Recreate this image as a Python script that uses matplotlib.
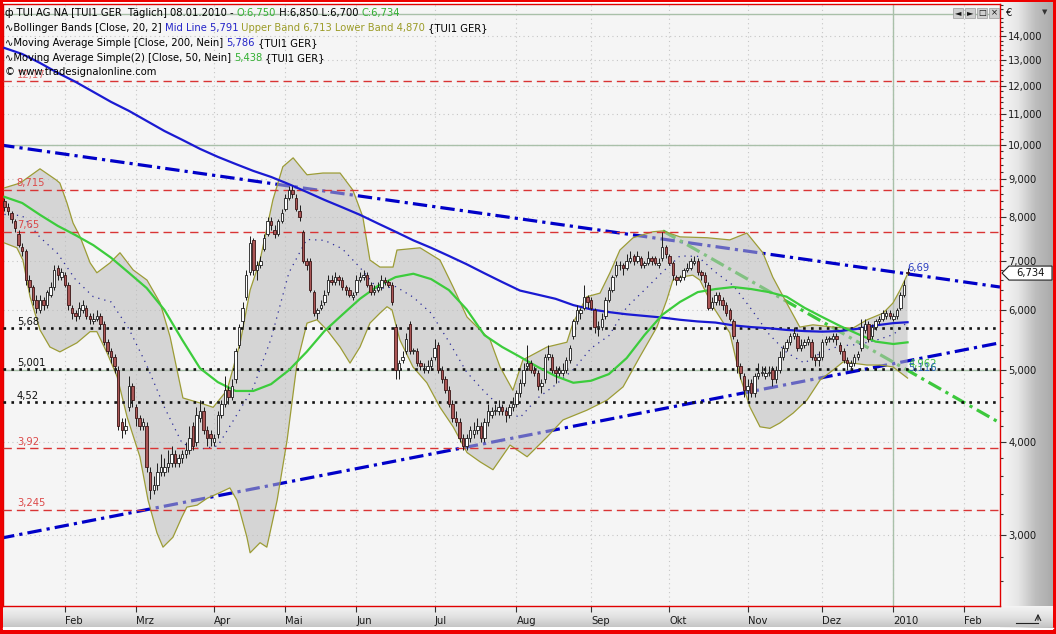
import numpy as np
import pandas as pd
import matplotlib
matplotlib.use("Agg")
import matplotlib.pyplot as plt
from matplotlib.colors import LinearSegmentedColormap
from matplotlib.patches import Polygon, Rectangle
from matplotlib.ticker import FixedLocator, NullFormatter

plt.rcParams['font.family'] = ['DejaVu Sans']
FS = 7.2

# ---------------- data ----------------
holidays = ['2009-04-10', '2009-04-13', '2009-05-01', '2009-12-24',
            '2009-12-25', '2009-12-31', '2010-01-01']

opens = [8.4, 8.25, 8.1, 7.9, 7.6, 7.3, 7.2, 6.6, 6.45, 6.2,
         6.0, 6.2, 6.1, 6.3, 6.45, 6.85, 6.65, 6.7, 6.5, 6.05,
         5.95, 5.9, 6.0, 6.05, 5.9, 5.8, 5.85, 5.9, 5.75, 5.45,
         5.3, 5.2, 5.0, 4.25, 4.15, 4.45, 4.75, 4.45, 4.3, 4.2,
         4.2, 3.65, 3.45, 3.5, 3.65, 3.65, 3.7, 3.75, 3.85, 3.75,
         3.8, 3.85, 3.9, 4.2, 4.0, 4.3, 4.4, 4.15, 4.1, 4.0,
         4.1, 4.35, 4.5, 4.7, 4.6, 4.85, 5.4, 5.8, 6.25, 6.75,
         7.45, 6.8, 6.9, 7.25, 7.6, 7.9, 7.7, 7.6, 7.9, 8.2,
         8.5, 8.7, 8.5, 8.15, 7.65, 7.0, 7.0, 6.35, 5.95, 6.05,
         6.15, 6.35, 6.6, 6.55, 6.65, 6.6, 6.45, 6.4, 6.25, 6.35,
         6.6, 6.65, 6.7, 6.5, 6.35, 6.4, 6.45, 6.6, 6.55, 6.5,
         5.7, 5.0, 5.15, 5.3, 5.75, 5.3, 5.3, 5.1, 5.05, 5.0,
         5.05, 5.2, 5.4, 5.0, 4.85, 4.7, 4.5, 4.3, 4.25, 4.05,
         3.95, 4.05, 4.1, 4.15, 4.2, 4.05, 4.25, 4.35, 4.4, 4.4,
         4.45, 4.4, 4.35, 4.45, 4.5, 4.65, 4.8, 5.05, 5.1, 5.0,
         4.95, 4.75, 4.85, 5.2, 5.2, 5.0, 4.95, 4.95, 5.0, 5.15,
         5.55, 5.8, 5.95, 6.05, 6.25, 6.2, 6.0, 5.7, 5.7, 5.9,
         6.2, 6.4, 6.7, 6.9, 6.9, 6.85, 7.0, 7.1, 7.0, 7.05,
         6.9, 6.95, 7.05, 7.05, 6.9, 7.05, 7.3, 7.1, 6.95, 6.65,
         6.6, 6.65, 6.8, 6.85, 6.95, 7.0, 6.75, 6.7, 6.5, 6.05,
         6.15, 6.3, 6.2, 6.1, 6.0, 5.8, 5.45, 5.05, 4.9, 4.7,
         4.8, 4.65, 4.9, 4.95, 4.9, 4.95, 5.0, 4.85, 5.0, 5.2,
         5.35, 5.45, 5.55, 5.55, 5.35, 5.4, 5.45, 5.45, 5.2, 5.15,
         5.2, 5.45, 5.5, 5.5, 5.55, 5.4, 5.3, 5.15, 5.05, 5.1,
         5.2, 5.35, 5.65, 5.75, 5.55, 5.7, 5.8, 5.85, 5.9, 5.95,
         5.85, 5.9, 6.05, 6.3, 6.75]

highs = [8.5, 8.35, 8.15, 7.95, 7.7, 7.4, 7.25, 6.7, 6.5, 6.3,
         6.3, 6.25, 6.4, 6.55, 6.9, 6.9, 6.85, 6.75, 6.55, 6.1,
         6.0, 6.15, 6.2, 6.1, 5.95, 5.95, 6.0, 5.95, 5.8, 5.5,
         5.35, 5.25, 5.05, 4.3, 4.3, 4.9, 4.8, 4.5, 4.35, 4.3,
         4.25, 3.7, 3.6, 3.75, 3.85, 3.8, 3.9, 3.95, 3.9, 3.85,
         3.9, 4.0, 4.2, 4.25, 4.45, 4.55, 4.45, 4.2, 4.15, 4.1,
         4.4, 4.55, 4.9, 4.75, 4.85, 5.35, 5.75, 6.15, 6.8, 7.55,
         7.5, 7.0, 7.1, 7.6, 8.0, 8.0, 7.8, 7.95, 8.2, 8.6,
         8.8, 8.8, 8.6, 8.3, 7.7, 7.05, 7.05, 6.4, 6.05, 6.2,
         6.4, 6.7, 6.7, 6.75, 6.7, 6.65, 6.5, 6.45, 6.35, 6.7,
         6.75, 6.8, 6.75, 6.55, 6.5, 6.55, 6.7, 6.65, 6.6, 6.55,
         5.75, 5.15, 5.3, 5.6, 5.8, 5.35, 5.35, 5.15, 5.1, 5.15,
         5.2, 5.5, 5.45, 5.05, 4.9, 4.75, 4.55, 4.4, 4.3, 4.1,
         4.1, 4.2, 4.25, 4.3, 4.25, 4.3, 4.5, 4.45, 4.5, 4.55,
         4.5, 4.45, 4.5, 4.6, 4.7, 4.85, 5.1, 5.4, 5.15, 5.05,
         5.0, 4.85, 5.25, 5.4, 5.25, 5.05, 5.05, 5.1, 5.2, 5.4,
         5.85, 6.1, 6.05, 6.5, 6.3, 6.25, 6.05, 5.8, 5.95, 6.25,
         6.45, 6.7, 7.0, 7.0, 6.95, 7.15, 7.2, 7.15, 7.2, 7.1,
         7.0, 7.2, 7.1, 7.1, 7.05, 7.65, 7.35, 7.15, 7.0, 6.7,
         6.7, 6.85, 6.95, 7.05, 7.1, 7.05, 6.8, 6.75, 6.55, 6.25,
         6.35, 6.35, 6.25, 6.15, 6.05, 5.85, 5.5, 5.1, 4.95, 4.85,
         4.85, 4.95, 5.1, 5.05, 5.05, 5.05, 5.05, 5.05, 5.3, 5.4,
         5.5, 5.6, 5.7, 5.6, 5.5, 5.5, 5.55, 5.5, 5.25, 5.3,
         5.5, 5.55, 5.55, 5.6, 5.6, 5.45, 5.35, 5.2, 5.15, 5.25,
         5.3, 5.85, 5.85, 5.8, 5.75, 5.85, 5.9, 6.0, 6.0, 6.0,
         5.95, 6.05, 6.35, 6.6, 6.85]

lows = [8.15, 8.05, 7.85, 7.65, 7.3, 7.1, 6.5, 6.35, 6.1, 5.95,
        5.95, 6.0, 6.05, 6.25, 6.4, 6.6, 6.6, 6.45, 6.0, 5.85,
        5.8, 5.85, 5.95, 5.85, 5.75, 5.75, 5.8, 5.7, 5.4, 5.25,
        5.1, 4.95, 4.15, 4.05, 4.1, 4.4, 4.45, 4.2, 4.15, 4.15,
        3.65, 3.35, 3.4, 3.45, 3.6, 3.6, 3.65, 3.7, 3.7, 3.7,
        3.75, 3.8, 3.85, 3.9, 3.95, 4.25, 4.1, 3.95, 3.95, 3.95,
        4.05, 4.3, 4.45, 4.5, 4.55, 4.8, 5.35, 5.7, 6.2, 6.7,
        6.7, 6.6, 6.85, 7.2, 7.55, 7.7, 7.5, 7.55, 7.85, 8.15,
        8.45, 8.5, 8.15, 7.9, 6.95, 6.8, 6.35, 5.9, 5.85, 6.0,
        6.1, 6.3, 6.5, 6.5, 6.5, 6.4, 6.3, 6.25, 6.2, 6.3,
        6.55, 6.6, 6.45, 6.3, 6.3, 6.35, 6.4, 6.5, 6.45, 6.1,
        4.85, 4.85, 5.1, 5.25, 5.25, 5.25, 5.05, 5.0, 4.95, 4.95,
        5.0, 5.15, 4.95, 4.8, 4.65, 4.45, 4.25, 4.2, 4.0, 3.9,
        3.9, 4.0, 4.05, 4.1, 4.0, 4.0, 4.2, 4.3, 4.35, 4.35,
        4.35, 4.25, 4.3, 4.4, 4.45, 4.6, 4.75, 5.0, 4.95, 4.9,
        4.7, 4.65, 4.8, 5.15, 4.95, 4.8, 4.9, 4.9, 4.95, 5.1,
        5.5, 5.75, 5.85, 6.0, 6.05, 6.0, 5.6, 5.55, 5.65, 5.85,
        6.15, 6.35, 6.65, 6.8, 6.7, 6.8, 6.95, 6.9, 6.95, 6.85,
        6.85, 6.9, 6.9, 6.9, 6.85, 7.0, 7.05, 6.9, 6.6, 6.5,
        6.55, 6.6, 6.75, 6.8, 6.9, 6.7, 6.6, 6.45, 6.0, 6.0,
        6.1, 6.1, 6.0, 5.9, 5.8, 5.5, 4.95, 4.85, 4.6, 4.55,
        4.6, 4.6, 4.85, 4.9, 4.85, 4.9, 4.75, 4.8, 4.95, 5.15,
        5.3, 5.4, 5.5, 5.3, 5.3, 5.35, 5.4, 5.15, 5.05, 5.05,
        5.15, 5.4, 5.45, 5.45, 5.4, 5.25, 5.1, 5.0, 5.0, 5.05,
        5.15, 5.3, 5.6, 5.45, 5.5, 5.65, 5.75, 5.8, 5.85, 5.85,
        5.8, 5.85, 6.0, 6.25, 6.7]

closes = [8.25, 8.15, 7.95, 7.75, 7.35, 7.2, 6.6, 6.45, 6.2, 6.05,
          6.2, 6.1, 6.35, 6.45, 6.8, 6.7, 6.75, 6.5, 6.1, 5.95,
          5.9, 6.05, 6.1, 5.9, 5.85, 5.85, 5.9, 5.75, 5.45, 5.3,
          5.2, 5.05, 4.2, 4.15, 4.2, 4.75, 4.55, 4.3, 4.2, 4.25,
          3.7, 3.45, 3.5, 3.65, 3.7, 3.7, 3.75, 3.85, 3.75, 3.8,
          3.85, 3.9, 4.05, 3.95, 4.35, 4.4, 4.15, 4.05, 4.05, 4.05,
          4.35, 4.5, 4.7, 4.6, 4.75, 5.3, 5.7, 6.05, 6.7, 7.4,
          6.8, 6.9, 7.0, 7.5, 7.9, 7.8, 7.6, 7.9, 8.1, 8.5,
          8.7, 8.6, 8.2, 8.0, 7.0, 6.9, 6.4, 5.95, 6.0, 6.1,
          6.3, 6.6, 6.55, 6.65, 6.6, 6.45, 6.4, 6.3, 6.3, 6.6,
          6.65, 6.7, 6.5, 6.35, 6.4, 6.45, 6.6, 6.55, 6.5, 6.15,
          5.0, 5.1, 5.2, 5.5, 5.3, 5.3, 5.1, 5.05, 5.05, 5.05,
          5.15, 5.35, 5.0, 4.85, 4.7, 4.5, 4.3, 4.25, 4.05, 3.95,
          4.05, 4.15, 4.15, 4.2, 4.05, 4.25, 4.4, 4.4, 4.4, 4.45,
          4.4, 4.35, 4.45, 4.5, 4.65, 4.8, 5.0, 5.1, 5.0, 4.95,
          4.75, 4.8, 5.2, 5.25, 5.0, 4.95, 5.0, 5.0, 5.15, 5.35,
          5.8, 6.0, 6.0, 6.25, 6.15, 6.05, 5.7, 5.7, 5.85, 6.2,
          6.4, 6.65, 6.9, 6.9, 6.85, 7.0, 7.05, 7.0, 7.1, 6.9,
          6.95, 7.05, 7.0, 6.95, 6.95, 7.3, 7.15, 6.95, 6.7, 6.6,
          6.65, 6.8, 6.85, 7.0, 7.0, 6.75, 6.7, 6.55, 6.05, 6.15,
          6.3, 6.2, 6.1, 5.95, 5.85, 5.55, 5.05, 4.95, 4.7, 4.75,
          4.65, 4.9, 4.95, 4.95, 4.95, 4.95, 4.85, 5.0, 5.2, 5.35,
          5.45, 5.55, 5.6, 5.35, 5.4, 5.45, 5.5, 5.2, 5.15, 5.2,
          5.45, 5.5, 5.5, 5.55, 5.5, 5.3, 5.15, 5.1, 5.1, 5.2,
          5.25, 5.7, 5.75, 5.5, 5.7, 5.8, 5.85, 5.95, 5.95, 5.9,
          5.9, 6.0, 6.3, 6.5, 6.734]

# Bollinger bands (trading-day position, price)
bb_upper_idx = [0, 4.4, 10.0, 14.5, 15.6, 17.6, 19.3, 21.3, 24.1, 26.0, 29.7, 32.5,
                36.2, 40.1, 43.8, 46.6, 50.2, 55.0, 58.7, 62.6, 66.3, 69.1, 71.9,
                75.5, 78.3, 81.2, 85.1, 89.6, 94.4, 98.0, 100.8, 102.8, 105.6, 109.3,
                110.4, 116.9, 122.5, 126.2, 130.1, 133.8, 136.6, 139.4, 143.0, 145.8,
                152.6, 158.2, 159.9, 163.8, 167.5, 170.3, 173.1, 176.8, 182.4, 185.2,
                190.0, 197.6, 204.0, 208.8, 213.3, 216.1, 220.0, 223.7, 227.4, 233.0,
                238.6, 242.6, 247.1, 249.9, 251.9, 254.0]
bb_upper = [8.76, 8.89, 9.29, 8.98, 8.89, 8.36, 7.86, 7.53, 6.95, 6.74, 6.95, 7.17,
            6.80, 6.59, 6.14, 5.53, 4.58, 4.51, 4.45, 4.69, 5.43, 6.39, 7.01,
            8.44, 9.35, 9.61, 9.12, 9.17, 9.17, 8.70, 8.01, 7.01, 6.86, 6.86,
            7.23, 7.28, 7.01, 6.45, 5.88, 5.65, 5.48, 5.04, 4.69, 5.15,
            5.36, 5.44, 5.77, 6.26, 6.33, 6.74, 7.23, 7.51, 7.65, 7.67,
            7.53, 7.51, 7.46, 7.62, 7.17, 6.65, 6.14, 5.70, 5.74, 5.70,
            5.68, 5.83, 5.95, 6.14, 6.39, 6.713]
bb_lower_idx = [0, 3.5, 5.2, 7.2, 10.0, 12.8, 15.6, 20.4, 24.1, 26.0, 28.9, 31.7,
                34.5, 38.1, 40.4, 42.9, 44.6, 47.4, 49.9, 51.3, 54.2, 57.0, 60.6,
                63.4, 65.4, 68.2, 69.1, 71.9, 73.8, 76.7, 79.5, 82.3, 85.1, 87.9,
                90.7, 94.4, 97.2, 100.0, 102.8, 105.6, 107.6, 109.0, 111.2, 114.9,
                118.8, 122.5, 126.2, 130.1, 133.8, 137.4, 142.2, 147.0, 152.6, 157.1,
                163.8, 169.5, 174.0, 178.7, 183.5, 186.3, 188.0, 190.0, 193.6, 195.6,
                199.3, 204.0, 206.9, 209.7, 212.5, 215.3, 218.1, 221.8, 225.7, 229.4,
                233.0, 235.9, 238.6, 242.6, 246.2, 249.9, 254.0]
bb_lower = [7.39, 7.28, 7.01, 6.26, 5.65, 5.36, 5.28, 5.43, 5.62, 5.62, 5.26, 4.89,
            4.32, 3.82, 3.34, 3.02, 2.89, 2.98, 3.17, 3.27, 3.29, 3.36, 3.42,
            3.47, 3.34, 2.98, 2.84, 2.93, 2.89, 3.34, 4.02, 5.10, 5.77, 5.83,
            5.65, 5.36, 5.10, 5.36, 5.77, 5.95, 6.07, 6.01, 5.48, 5.04,
            4.80, 4.45, 4.19, 3.87, 3.76, 3.67, 3.96, 3.82, 4.06, 4.28,
            4.41, 4.55, 4.74, 5.20, 5.70, 6.20, 6.59, 6.65, 6.69, 6.59,
            6.07, 5.60, 4.89, 4.45, 4.19, 4.17, 4.24, 4.37, 4.55, 4.84,
            4.99, 5.12, 5.10, 5.07, 5.07, 5.04, 4.87]

# mid line and moving averages read every 5 trading days (plus the last day)
ind_idx = [0, 5, 10, 15, 20, 25, 30, 35, 40, 45, 50, 55, 60, 65, 70, 75, 80, 85,
           90, 95, 100, 105, 110, 115, 120, 125, 130, 135, 140, 145, 150, 155, 160,
           165, 170, 175, 180, 185, 190, 195, 200, 205, 210, 215, 220, 225, 230,
           235, 240, 245, 250, 254]
bb_mid = [8.07, 8.04, 7.52, 7.15, 6.6, 6.26, 6.16, 5.67, 5.07, 4.45, 3.98, 3.91,
          3.95, 4.32, 4.73, 5.5, 6.74, 7.47, 7.45, 7.26, 6.85, 6.41, 6.46, 6.25,
          5.95, 5.45, 4.96, 4.67, 4.43, 4.31, 4.58, 4.77, 5.0, 5.34, 5.55, 6.06,
          6.39, 6.75, 7.1, 7.09, 6.75, 6.48, 6.03, 5.58, 5.27, 5.1, 5.28, 5.38,
          5.4, 5.47, 5.57, 5.791]
sma50 = [8.52, 8.36, 8.06, 7.79, 7.57, 7.34, 7.06, 6.74, 6.43, 6.01, 5.48, 5.02,
         4.81, 4.68, 4.68, 4.78, 4.99, 5.28, 5.63, 5.92, 6.22, 6.47, 6.65, 6.72,
         6.61, 6.39, 6.02, 5.56, 5.36, 5.2, 5.04, 4.9, 4.8, 4.83, 4.93, 5.18,
         5.56, 5.92, 6.16, 6.35, 6.41, 6.45, 6.41, 6.35, 6.26, 6.05, 5.88, 5.72,
         5.58, 5.45, 5.41, 5.438]
sma200 = [13.49, 13.24, 12.88, 12.49, 12.15, 11.78, 11.42, 11.11, 10.77, 10.44,
          10.16, 9.88, 9.64, 9.43, 9.23, 9.06, 8.86, 8.65, 8.44, 8.25, 8.06, 7.85,
          7.65, 7.45, 7.28, 7.1, 6.92, 6.73, 6.55, 6.38, 6.3, 6.22, 6.1, 6.02,
          5.97, 5.93, 5.9, 5.87, 5.83, 5.8, 5.78, 5.73, 5.7, 5.68, 5.65, 5.63,
          5.62, 5.63, 5.67, 5.73, 5.77, 5.786]

month_labels = ['Feb', 'Mrz', 'Apr', 'Mai', 'Jun', 'Jul', 'Aug', 'Sep', 'Okt',
                'Nov', 'Dez', '2010', 'Feb']
y_major = [3, 4, 5, 6, 7, 8, 9, 10, 11, 12, 13, 14]
round_levels = [5, 10, 15]
red_levels = [12.17, 8.715, 7.65, 3.92, 3.245]
red_labels = ['12,17', '8,715', '7,65', '3,92', '3,245']
black_levels = [5.68, 5.001, 4.52]
black_labels = ['5,68', '5,001', '4,52']

trend_hi_x, trend_hi_y = [-1.2, 280.0], [10.0, 6.45]
trend_lo_x, trend_lo_y = [-1.2, 280.0], [2.97, 5.43]
trend_gr_x, trend_gr_y = [185.2, 280.0], [7.67, 4.24]

# ---------------- figure ----------------
W, H = 1056, 634
fig = plt.figure(figsize=(W / 100, H / 100), dpi=100)
fig.patch.set_facecolor('white')

bg = fig.add_axes([0, 0, 1, 1], zorder=0)
bg.axis('off')
cm_r = LinearSegmentedColormap.from_list('r', ['#f7f7f7', '#e6e6e6', '#bdbdbd', '#a9a9a9'])
cm_b = LinearSegmentedColormap.from_list('b', ['#f4f4f4', '#e2e2e2', '#c6c6c6'])
bg.imshow(np.linspace(0, 1, 128)[None, :], extent=(1000, 1054, 628, 0), cmap=cm_r,
          aspect='auto', interpolation='bilinear')
bg.imshow(np.linspace(0, 1, 64)[:, None], extent=(0, 1054, 627, 606), cmap=cm_b,
          aspect='auto', interpolation='bilinear')
bg.set_xlim(0, W)
bg.set_ylim(H, 0)

ax = fig.add_axes([3 / W, (H - 606) / H, 997 / W, (606 - 4) / H], zorder=2)
ax.set_facecolor('#f5f5f5')
ax.set_yscale('log')

hol = pd.to_datetime(holidays)
cal = pd.bdate_range('2009-01-08', '2010-02-26')
cal = cal[~cal.isin(hol)]
month_pos = [i for i in range(1, len(cal)) if cal[i].month != cal[i - 1].month]

n = len(closes)
idx = np.arange(n)
o = np.array(opens)
c = np.array(closes)
hi = np.array(highs)
lo = np.array(lows)

# grid
for v in y_major:
    ax.axhline(v, color='#c6c6c6', lw=0.8, ls=(0, (1, 3)), zorder=0.5)
for p in month_pos:
    ax.axvline(p, color='#c6c6c6', lw=0.8, ls=(0, (1, 3)), zorder=0.5)
for v in round_levels:
    ax.axhline(v, color='#a9c0a9', lw=1.0, zorder=0.8)
ax.axvline(month_pos[month_labels.index('2010')], color='#a9c0a9', lw=1.0, zorder=0.8)

# trend lines (under the band fill)
dd = (0, (4.5, 1.6, 1.0, 1.6))
ax.plot(trend_hi_x, trend_hi_y, color='#0000c8', lw=2.3, ls=dd, zorder=2)
ax.plot(trend_lo_x, trend_lo_y, color='#0000c8', lw=2.3, ls=dd, zorder=2)
ax.plot(trend_gr_x, trend_gr_y, color='#3cc83c', lw=2.3, ls=dd, zorder=2)

# Bollinger bands
ax.fill(list(bb_upper_idx) + list(bb_lower_idx[::-1]), list(bb_upper) + list(bb_lower[::-1]),
        color='#bcbcbc', alpha=0.55, lw=0, zorder=3)
ax.plot(bb_upper_idx, bb_upper, color='#9c9c36', lw=0.9, zorder=3.5)
ax.plot(bb_lower_idx, bb_lower, color='#9c9c36', lw=0.9, zorder=3.5)
ax.plot(ind_idx, bb_mid, color='#2a2a9a', lw=0.9, ls=(0, (1, 4)), zorder=4)

# horizontal levels
for v, lab in zip(red_levels, red_labels):
    ax.axhline(v, color='#d93434', lw=1.0, ls=(0, (6, 3.6)), zorder=4)
    if lab != '12,17':
        ax.text(3.5, v * 1.004, lab, color='#dc4a4a', fontsize=FS, ha='left', va='bottom', zorder=7)
for v, lab in zip(black_levels, black_labels):
    ax.axhline(v, color='#111111', lw=1.9, ls=(0, (1, 2)), zorder=4)
    ax.text(3.5, v * 1.004, lab, color='#111111', fontsize=FS, ha='left', va='bottom', zorder=7)

# moving averages
ax.plot(ind_idx, sma200, color='#1a1ad2', lw=1.6, zorder=5)
ax.plot(ind_idx, sma50, color='#3ccc3c', lw=1.6, zorder=5)

# candles
up = c >= o
body_lo = np.minimum(o, c)
body_h = np.maximum(np.abs(c - o), 0.012)
ax.vlines(idx, lo, hi, color='#1c1c1c', lw=0.7, zorder=6)
ax.bar(idx[up], body_h[up], bottom=body_lo[up], width=0.7, color='white',
       edgecolor='#1c1c1c', linewidth=0.6, zorder=6.5)
ax.bar(idx[~up], body_h[~up], bottom=body_lo[~up], width=0.7, color='#ab5656',
       edgecolor='#3a1414', linewidth=0.6, zorder=6.5)

# end labels of trend lines
ax.text(253.9, 6.74, '6,69', color='#2a3cc0', fontsize=FS, ha='left', va='bottom', zorder=7)
ax.text(254.2, 5.09, '4,962', color='#3cc03c', fontsize=FS, ha='left', va='center', zorder=7)
ax.text(254.2, 5.02, '5,116', color='#2a64b4', fontsize=FS, ha='left', va='center', zorder=7)

# axes
ax.set_xlim(-0.4, 280.0)
ax.set_ylim(2.41, 15.45)
ax.yaxis.tick_right()
ax.yaxis.set_major_locator(FixedLocator(y_major))
ax.set_yticklabels([f"{v:.3f}".replace('.', ',') for v in y_major])
minor_vals = [round(v, 1) for v in np.arange(2.4, 15.5, 0.2) if abs(v - round(v)) > 0.05]
ax.yaxis.set_minor_locator(FixedLocator(minor_vals))
ax.yaxis.set_minor_formatter(NullFormatter())
ax.tick_params(axis='y', which='major', length=4, width=0.8, color='#333333', pad=2,
               labelsize=FS, labelcolor='#1a1a1a')
ax.tick_params(axis='y', which='minor', length=2.5, width=0.8, color='#333333')
ax.set_xticks(month_pos)
ax.set_xticklabels(month_labels, ha='left')
ax.tick_params(axis='x', length=4, width=0.8, color='#333333', pad=3, labelsize=FS,
               labelcolor='#1a1a1a')
for s in ax.spines.values():
    s.set_color('#e00000')
    s.set_linewidth(1.0)

# ---------------- overlay ----------------
ov = fig.add_axes([0, 0, 1, 1], zorder=10)
ov.set_xlim(0, W)
ov.set_ylim(H, 0)
ov.axis('off')
ov.patch.set_alpha(0)

# outer red frame
for rect in [(0, 0, 2.5, H), (0, 630, W, 4), (1053, 0, 3, H), (0, 0, W, 2)]:
    ov.add_patch(Rectangle(rect[:2], rect[2], rect[3], fc='#ee0000', ec='none'))
ov.plot([3, 1053], [628, 628], color='white', lw=1.0)

# price tag
y_tag = H - ax.transData.transform((0, closes[-1]))[1]
ov.add_patch(Polygon([(1002, y_tag), (1009, y_tag - 7), (1052, y_tag - 7),
                      (1052, y_tag + 7), (1009, y_tag + 7)], closed=True,
                     fc='white', ec='#222222', lw=0.8))
ov.text(1030, y_tag, f"{closes[-1]:.3f}".replace('.', ','), fontsize=FS,
        ha='center', va='center', color='#111111')

# top-right symbols
ov.text(1006, 13, '€', fontsize=FS, ha='left', va='center', color='#111111')
ov.text(1045, 12, '▼', fontsize=5, ha='center', va='center', color='#333333')
for bx, sym in zip([953, 965, 977, 989], ['◄', '►', '□', '×']):
    ov.add_patch(Rectangle((bx, 8), 10, 10, fc='#cfcfcf', ec='#9a9a9a', lw=0.5))
    ov.text(bx + 5, 13, sym, fontsize=6, ha='center', va='center', color='#111111')

# bottom-right icon
ov.plot([1016, 1038], [623, 623], color='#222222', lw=0.8)
ov.annotate('', xy=(1038, 611), xytext=(1038, 623),
            arrowprops=dict(arrowstyle='->', lw=0.8, color='#222222'))

# header lines
renderer = fig.canvas.get_renderer()


def rich(x0, y0, parts, fs=FS):
    x = x0
    for s, col in parts:
        t = ov.text(x, y0, s, color=col, fontsize=fs, ha='left', va='center')
        x += t.get_window_extent(renderer=renderer).width


GREEN = '#33b033'
BLUE = '#2323c8'
OLIVE = '#9c9c28'
# level label hidden behind the copyright line, as in the original
ov.text(17, 75, red_labels[0], color='#dc4a4a', fontsize=FS, ha='left', va='center', alpha=0.8)
rich(5, 13, [('ф TUI AG NA [TUI1 GER  Täglich] 08.01.2010 - ', 'black'), ('O:6,750', GREEN),
             (' H:6,850 L:6,700 ', 'black'), ('C:6,734', GREEN)])
rich(5, 28, [('∿Bollinger Bands [Close, 20, 2] ', 'black'), ('Mid Line 5,791', BLUE),
             (' Upper Band 6,713 Lower Band 4,870', OLIVE), (' {TUI1 GER}', 'black')])
rich(5, 43, [('∿Moving Average Simple [Close, 200, Nein] ', 'black'), ('5,786', BLUE),
             (' {TUI1 GER}', 'black')])
rich(5, 58, [('∿Moving Average Simple(2) [Close, 50, Nein] ', 'black'), ('5,438', GREEN),
             (' {TUI1 GER}', 'black')])
rich(5, 72, [('© www.tradesignalonline.com', 'black')])

fig.savefig('out.png', dpi=100)
